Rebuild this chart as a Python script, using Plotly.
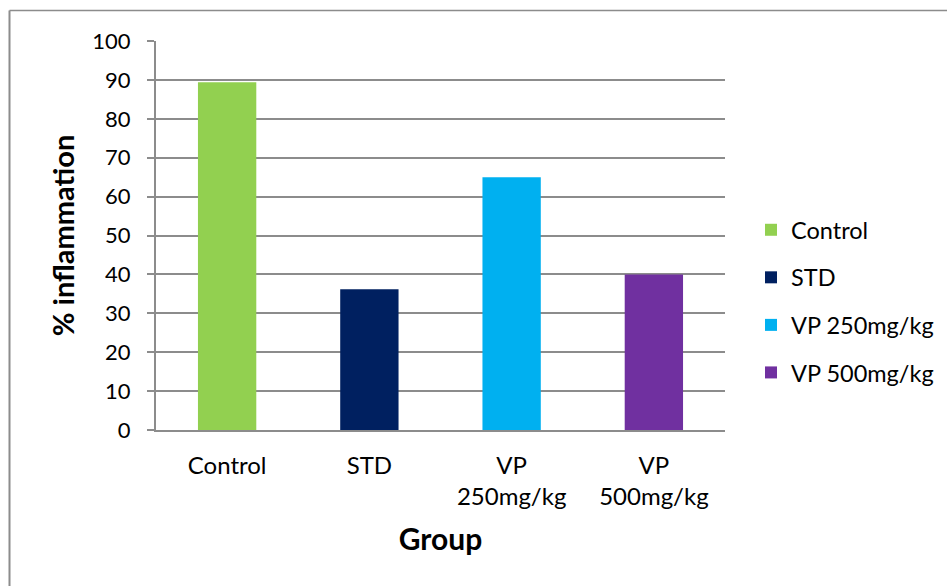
import plotly.graph_objects as go

# Percent inflammation by treatment group
groups = ["Control", "STD", "VP 250mg/kg", "VP 500mg/kg"]
tick_labels = ["Control", "STD", "VP<br>250mg/kg", "VP<br>500mg/kg"]
inflammation = [89.4, 36.2, 65.0, 40.0]
colors = ["#92D050", "#002060", "#00B0F0", "#7030A0"]

W, H = 947, 586
L, R, T, B = 156, 222, 41, 156
pw, ph = W - L - R, H - T - B

def px_x(x):
    return (x - L) / pw

def px_y(y):
    return (H - B - y) / ph

fig = go.Figure()
for name, val, col in zip(groups, inflammation, colors):
    fig.add_trace(go.Bar(
        x=[name], y=[val], name=name, width=0.41,
        marker=dict(color=col, line=dict(width=0)),
        legendgroup=name,
    ))

grid_col = "#8c8c8c"
font_fam = "Lato, Calibri, sans-serif"

fig.update_layout(
    width=W, height=H,
    margin=dict(l=L, r=R, t=T, b=B, autoexpand=False),
    paper_bgcolor="white", plot_bgcolor="white",
    barmode="overlay",
    font=dict(family=font_fam, color="#000000", size=23),
    xaxis=dict(
        categoryorder="array", categoryarray=groups,
        tickvals=groups, ticktext=tick_labels,
        showline=True, linecolor=grid_col, linewidth=2,
        ticks="", tickfont=dict(size=24, family=font_fam),
        ticklabelstandoff=13,
        title=dict(text="<b>Group</b>", font=dict(size=30, family=font_fam), standoff=20),
        range=[-0.5, 3.5],
    ),
    yaxis=dict(
        range=[0, 100], dtick=10,
        showgrid=True, gridcolor=grid_col, gridwidth=2,
        showline=True, linecolor=grid_col, linewidth=2,
        ticks="outside", ticklen=7, tickcolor=grid_col, tickwidth=2,
        tickfont=dict(size=22, family=font_fam),
        ticklabelstandoff=12,
        zeroline=False,
        title=dict(text="<b>% inflammation</b>", font=dict(size=29, family=font_fam), standoff=9),
    ),
    legend=dict(
        x=px_x(751), xanchor="left", y=px_y(301.5), yanchor="middle",
        font=dict(size=23.5, family=font_fam),
        tracegroupgap=14, bgcolor="rgba(0,0,0,0)",
    ),
    showlegend=True,
    shapes=[
        dict(type="line", xref="paper", yref="paper",
             x0=px_x(9.5), x1=px_x(W + 2), y0=px_y(10.5), y1=px_y(10.5),
             line=dict(color="#8c8c8c", width=1.5)),
        dict(type="line", xref="paper", yref="paper",
             x0=px_x(9.5), x1=px_x(9.5), y0=px_y(10.5), y1=px_y(H + 2),
             line=dict(color="#8c8c8c", width=2)),
    ],
)

fig.write_html("out.html")
